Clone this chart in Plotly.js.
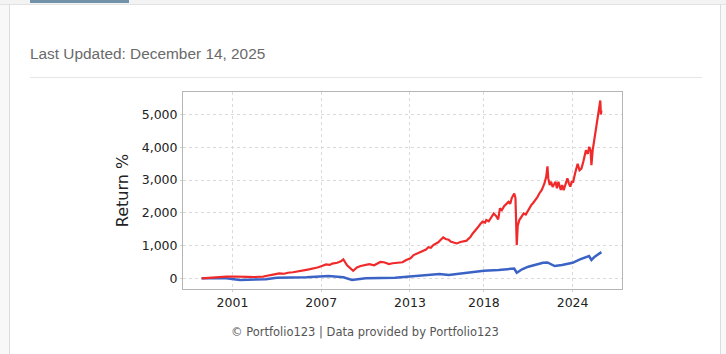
<!DOCTYPE html>
<html>
<head>
<meta charset="utf-8">
<script src="https://cdn.plot.ly/plotly-3.0.1.min.js"></script>
<style>
  html, body { margin: 0; padding: 0; width: 726px; height: 354px; overflow: hidden; background: #ffffff; }
  #topbar { position: absolute; left: 0; top: 0; width: 726px; height: 4px; background: #f3f3f3; border-bottom: 1px solid #e2e2e2; }
  #tab { position: absolute; left: 30px; top: 0; width: 99px; height: 3px; background: #7292a7; }
  #leftstrip { position: absolute; left: 0; top: 5px; width: 9px; height: 349px; background: #f8f8f8; border-right: 1px solid #dcdcdc; }
  #rightstrip { position: absolute; left: 720px; top: 5px; width: 6px; height: 349px; background: #f8f8f8; border-left: 1px solid #dcdcdc; }
  #updated { position: absolute; left: 30px; top: 45px; font-family: "Liberation Sans", Arial, sans-serif; font-size: 15.4px; color: #6a6a6a; }
  #sep { position: absolute; left: 30px; top: 77px; width: 672px; height: 1px; background: #e6e6e6; }
  #footer { position: absolute; left: 231px; top: 325px; font-family: "DejaVu Sans", sans-serif; font-size: 11.5px; color: #555; }
  #chart { position: absolute; left: 0; top: 0; width: 726px; height: 354px; }
</style>
</head>
<body>
<div id="topbar"></div>
<div id="tab"></div>
<div id="leftstrip"></div>
<div id="rightstrip"></div>
<div id="updated">Last Updated: December 14, 2025</div>
<div id="sep"></div>
<div id="chart"></div>
<div id="footer">© Portfolio123 | Data provided by Portfolio123</div>
<script>
const redDates = ['1998-12-01','1999-06-01','2000-01-01','2000-08-01','2001-02-01','2001-07-01','2002-01-01','2002-07-01','2003-02-01','2003-08-01','2004-01-01','2004-03-01','2004-07-01','2004-10-01','2005-02-01','2005-05-01','2005-09-01','2006-01-01','2006-04-01','2006-07-01','2006-10-01','2007-01-01','2007-05-01','2007-08-01','2007-10-01','2008-02-01','2008-05-01','2008-07-01','2008-10-01','2009-03-01','2009-06-01','2009-09-01','2010-01-01','2010-04-01','2010-08-01','2011-01-01','2011-04-01','2011-08-01','2011-11-01','2012-02-01','2012-07-01','2012-10-01','2013-01-15','2013-04-01','2013-08-01','2013-12-01','2014-02-01','2014-04-01','2014-06-01','2014-08-01','2014-10-01','2014-12-01','2015-02-01','2015-04-01','2015-06-01','2015-08-15','2015-10-01','2016-01-01','2016-03-01','2016-06-01','2016-08-01','2016-11-01','2016-12-01','2017-02-01','2017-04-01','2017-06-01','2017-08-01','2017-10-01','2017-12-01','2018-02-01','2018-03-01','2018-05-01','2018-07-01','2018-09-01','2018-11-01','2018-12-20','2019-02-01','2019-03-20','2019-05-15','2019-07-01','2019-09-01','2019-10-15','2019-11-20','2020-01-20','2020-02-20','2020-03-23','2020-04-15','2020-05-25','2020-07-10','2020-09-10','2020-11-01','2021-01-01','2021-02-15','2021-03-15','2021-05-01','2021-07-01','2021-08-15','2021-10-01','2021-12-01','2022-02-05','2022-03-20','2022-04-20','2022-05-10','2022-06-15','2022-07-20','2022-08-25','2022-10-01','2022-11-05','2022-12-10','2023-01-15','2023-03-15','2023-04-20','2023-05-25','2023-07-10','2023-08-25','2023-10-01','2023-11-05','2023-12-10','2024-01-15','2024-03-01','2024-05-05','2024-06-20','2024-08-05','2024-09-20','2024-11-25','2025-01-10','2025-02-15','2025-03-20','2025-04-10','2025-05-10','2025-06-05','2025-07-01','2025-08-10','2025-09-15','2025-10-20','2025-11-15','2025-11-30','2025-12-12'];
const redValues = [0,20,40,50,55,60,45,40,50,100,130,150,140,170,185,200,230,260,280,300,330,370,425,410,450,475,520,580,400,230,330,375,400,435,400,500,490,435,460,475,490,560,610,710,780,840,880,950,930,1015,1060,1100,1180,1250,1200,1180,1120,1080,1065,1110,1130,1150,1190,1260,1370,1450,1550,1650,1730,1700,1780,1740,1850,1980,1900,1800,2135,2080,2200,2260,2335,2280,2450,2590,2450,1015,1600,1780,1850,1980,1950,2100,2200,2235,2300,2400,2480,2590,2700,2895,3100,3420,3050,2850,2950,2790,2900,2950,2750,2945,2700,2850,2690,2900,3050,2900,2800,2950,2945,3200,3500,3300,3350,3550,3910,3800,4015,3900,3455,3900,4100,4265,4600,4925,5100,5430,5000,5120];

const blueDates = ['1998-12-01','2000-08-01','2001-07-01','2002-07-01','2003-04-01','2004-01-01','2006-01-01','2007-07-01','2008-07-01','2009-02-01','2010-01-01','2012-01-01','2013-01-01','2014-01-01','2015-01-01','2015-08-15','2016-01-01','2017-01-01','2018-01-01','2019-01-01','2020-01-20','2020-03-23','2020-08-01','2021-01-01','2022-01-01','2022-04-20','2022-10-15','2023-04-15','2024-01-01','2024-07-01','2025-02-10','2025-04-10','2025-07-01','2025-12-12'];
const blueValues = [0,0,-50,-50,-30,20,30,70,30,-50,0,20,50,80,130,100,120,170,230,255,300,170,275,355,475,485,375,405,475,580,680,560,660,800];

const xTickVals = ['2001-01-01','2007-01-01','2013-01-01','2018-01-01','2024-01-01'];
const xTickText = ['2001','2007','2013','2018','2024'];
const yTickVals = [0,1000,2000,3000,4000,5000];

const traces = [
  { x: blueDates, y: blueValues, type: 'scatter', mode: 'lines', line: { color: '#3b63c6', width: 2.5 }, hoverinfo: 'skip' },
  { x: redDates, y: redValues, type: 'scatter', mode: 'lines', line: { color: '#f02a2a', width: 2.2 }, hoverinfo: 'skip' }
];

const layout = {
  width: 726, height: 354,
  margin: { l: 183, r: 104, t: 92, b: 65, pad: 0 },
  paper_bgcolor: 'rgba(0,0,0,0)',
  plot_bgcolor: '#ffffff',
  showlegend: false,
  separators: '.,',
  font: { family: 'DejaVu Sans, sans-serif', size: 12.5, color: '#222' },
  xaxis: {
    type: 'date',
    range: ['1997-08-28', '2027-05-05'],
    tickvals: xTickVals, ticktext: xTickText,
    showgrid: true, gridcolor: '#dadada', griddash: '3px,3px', gridwidth: 1,
    showline: true, linecolor: '#b5b5b5', linewidth: 1, mirror: true,
    ticks: 'outside', ticklen: 2, tickcolor: '#d0d0d0',
    zeroline: false,
    tickfont: { family: 'DejaVu Sans, sans-serif', size: 12.5, color: '#222' }
  },
  yaxis: {
    range: [-326, 5689],
    tickvals: yTickVals, tickformat: ',d',
    showgrid: true, gridcolor: '#dadada', griddash: '3px,3px', gridwidth: 1,
    showline: true, linecolor: '#b5b5b5', linewidth: 1, mirror: true,
    ticks: 'outside', ticklen: 2, tickcolor: '#d0d0d0',
    zeroline: false,
    tickfont: { family: 'DejaVu Sans, sans-serif', size: 12.5, color: '#222' },
    title: { text: 'Return %', font: { family: 'DejaVu Sans, sans-serif', size: 16, color: '#222' }, standoff: 9 }
  }
};

Plotly.newPlot('chart', traces, layout, { staticPlot: true, displayModeBar: false });
</script>
</body>
</html>
